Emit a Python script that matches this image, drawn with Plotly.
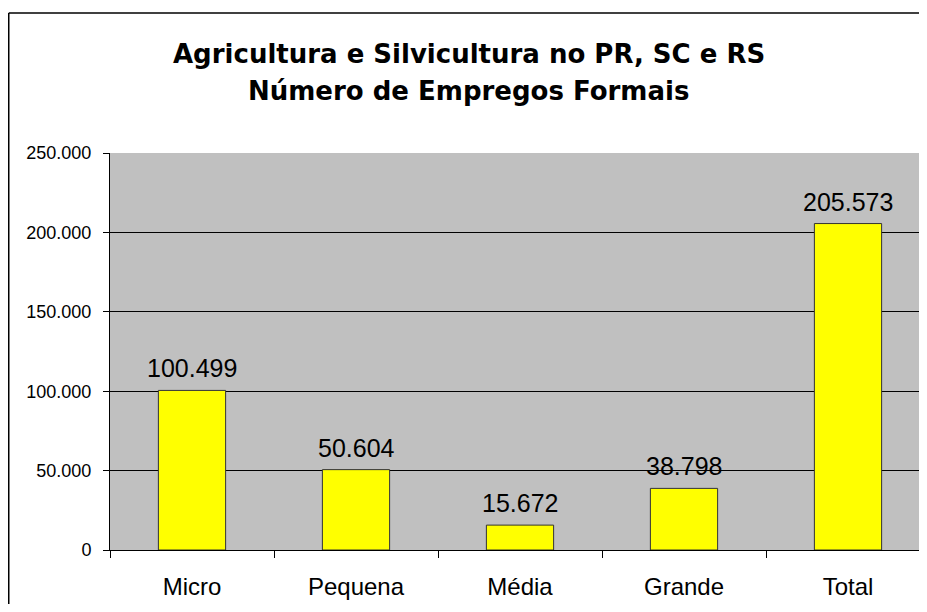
import plotly.graph_objects as go

categories = ["Micro", "Pequena", "Média", "Grande", "Total"]
values = [100499, 50604, 15672, 38798, 205573]
title_line1 = "Agricultura e Silvicultura no PR, SC e RS"
title_line2 = "Número de Empregos Formais"
y_ticks = [0, 50000, 100000, 150000, 200000, 250000]

# figure sized so the page (with the default 8px body margin) does not overflow
W, H = 911, 596
OFF = 8  # page offset of the figure inside the browser window
L, R, T, B = 102, 0, 145, 54
pw = W - L - R
ph = H - T - B

def px_x(sx):
    return (sx - OFF - L) / pw

def px_y(sy):
    return (H - B - (sy - OFF)) / ph

FONT = "Liberation Sans, Arial, sans-serif"

def fmt(v):
    return f"{v:,d}".replace(",", ".")

fig = go.Figure()
fig.add_trace(go.Bar(
    x=categories,
    y=values,
    marker=dict(color="#FFFF00", line=dict(color="#333333", width=1)),
    showlegend=False,
    hovertemplate="%{x}: %{y:,d}<extra></extra>",
))

annotations = [
    dict(x=c, y=v, xref="x", yref="y", text=fmt(v), showarrow=False,
         xanchor="center", yanchor="bottom", yshift=6,
         font=dict(family=FONT, size=25, color="#000000"))
    for c, v in zip(categories, values)
]
annotations += [
    dict(text="<b>" + title_line1 + "</b>", xref="paper", yref="paper",
         x=px_x(468.5), y=px_y(54.5), xanchor="center", yanchor="middle",
         showarrow=False,
         font=dict(size=26, color="#000000", family="DejaVu Sans, sans-serif")),
    dict(text="<b>" + title_line2 + "</b>", xref="paper", yref="paper",
         x=px_x(468.5), y=px_y(91.5), xanchor="center", yanchor="middle",
         showarrow=False,
         font=dict(size=26, color="#000000", family="DejaVu Sans, sans-serif")),
]

bx, by_top = px_x(8.75), px_y(13)
bx_end, by_end = px_x(OFF + W), px_y(OFF + H)

fig.update_layout(
    width=W, height=H,
    autosize=False,
    margin=dict(l=L, r=R, t=T, b=B, pad=0),
    paper_bgcolor="#FFFFFF",
    plot_bgcolor="#C0C0C0",
    separators=",.",
    bargap=0.59,
    font=dict(family=FONT, color="#000000"),
    xaxis=dict(
        range=[-0.5, -0.5 + pw / 164.0],
        tickson="boundaries",
        ticks="outside", ticklen=7, tickcolor="#000000", tickwidth=1,
        showline=True, linecolor="#000000", linewidth=1,
        showgrid=False,
        tickfont=dict(size=24),
        ticklabelstandoff=15,
    ),
    yaxis=dict(
        range=[0, 250000],
        tickvals=y_ticks,
        tickformat=",d",
        ticks="outside", ticklen=6, tickcolor="#000000", tickwidth=1,
        showline=True, linecolor="#000000", linewidth=1,
        showgrid=True, gridcolor="#000000", gridwidth=1,
        zeroline=False,
        tickfont=dict(size=18),
        ticklabelstandoff=8,
    ),
    shapes=[
        dict(type="line", xref="paper", yref="paper",
             x0=bx, x1=bx, y0=by_end, y1=by_top,
             line=dict(color="#000000", width=1.5), layer="above"),
        dict(type="line", xref="paper", yref="paper",
             x0=bx, x1=bx_end, y0=by_top, y1=by_top,
             line=dict(color="#000000", width=1.5), layer="above"),
    ],
    annotations=annotations,
)

fig.write_html("out.html")
